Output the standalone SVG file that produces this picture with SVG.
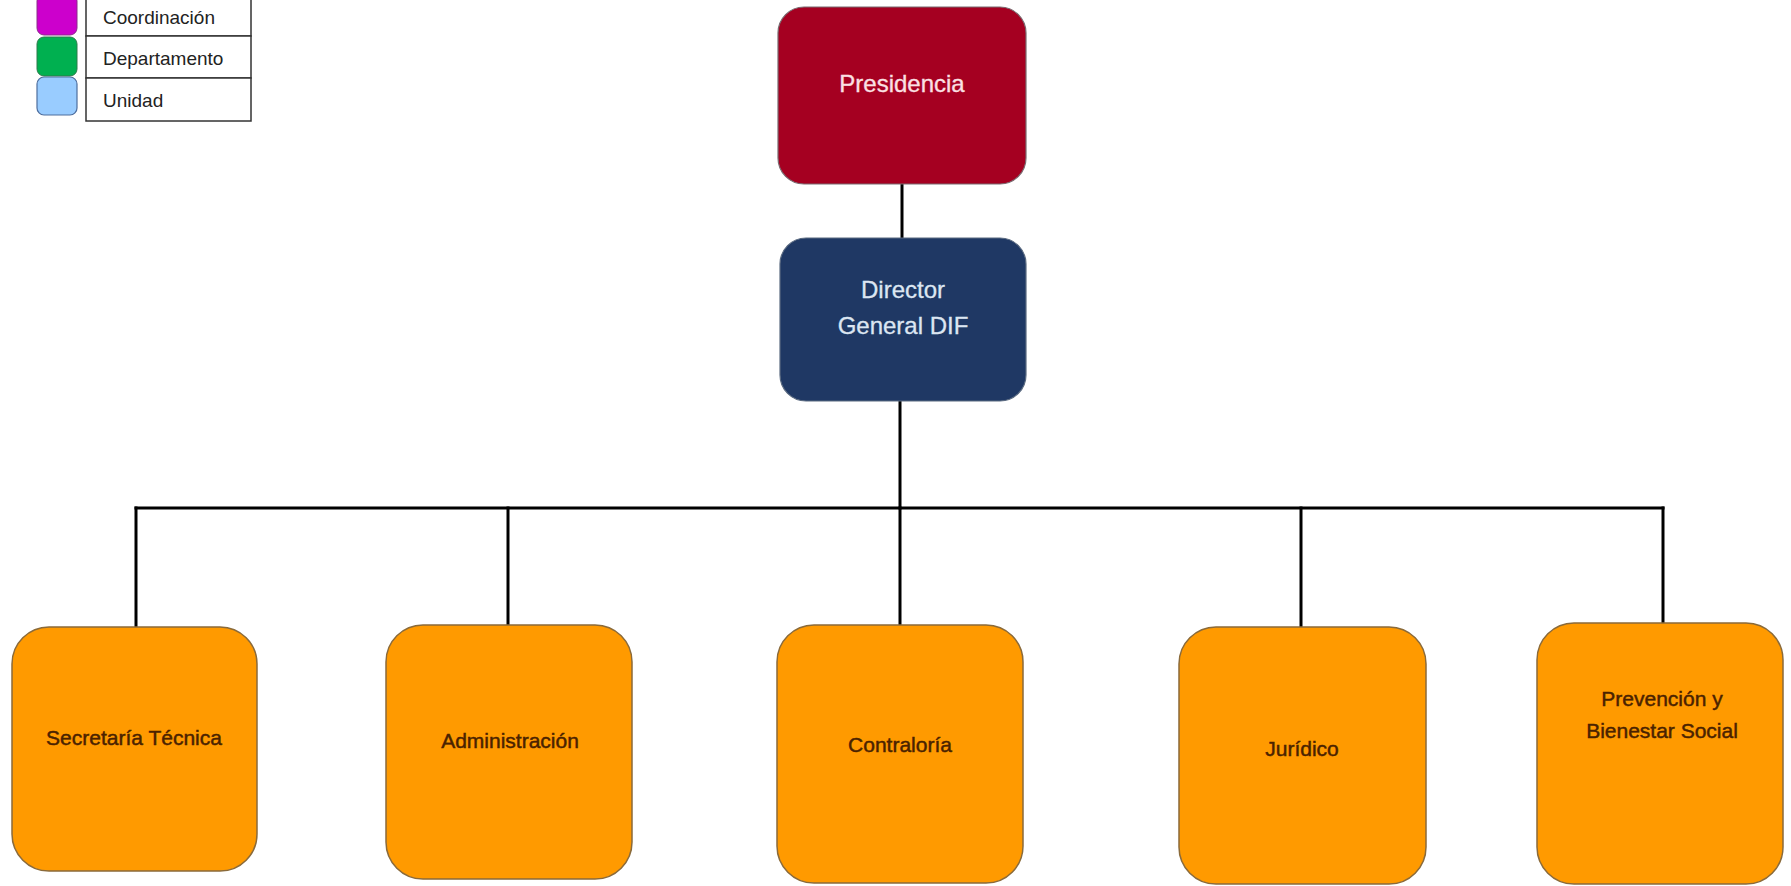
<svg xmlns="http://www.w3.org/2000/svg" width="1791" height="886" viewBox="0 0 1791 886">
  <style>
    text { font-family: "Liberation Sans", Arial, sans-serif; text-anchor: middle; }
    .unit { fill: #FF9A00; stroke: #8A6A3A; stroke-width: 1.5; }
    .unit-label { font-size: 21px; fill: #4A2200; stroke: #4A2200; stroke-width: 0.45; }
    .conn { stroke: #000000; stroke-width: 3; fill: none; stroke-linecap: square; }
    .legend-label { font-size: 19px; fill: #222222; text-anchor: start; }
    .legend-cell { fill: #FFFFFF; stroke: #333333; stroke-width: 1.5; }
  </style>
  <rect width="1791" height="886" fill="#FFFFFF"/>

  <g id="legend">
    <rect x="37" y="-6" width="40" height="41" rx="7" fill="#CC00CC" stroke="#8A2C8A" stroke-width="1"/>
    <rect x="37" y="37" width="40" height="39" rx="7" fill="#00B050" stroke="#2C7A4A" stroke-width="1"/>
    <rect x="37" y="77" width="40" height="38" rx="7" fill="#99CCFF" stroke="#4E6E9E" stroke-width="1.2"/>
    <rect class="legend-cell" x="86" y="-2" width="165" height="38"/>
    <rect class="legend-cell" x="86" y="36" width="165" height="42"/>
    <rect class="legend-cell" x="86" y="78" width="165" height="43"/>
    <text class="legend-label" x="103" y="24">Coordinación</text>
    <text class="legend-label" x="103" y="65">Departamento</text>
    <text class="legend-label" x="103" y="107">Unidad</text>
  </g>

  <g id="connectors">
    <line class="conn" x1="902" y1="184" x2="902" y2="238"/>
    <line class="conn" x1="900" y1="401" x2="900" y2="508"/>
    <line class="conn" x1="136" y1="508" x2="1663" y2="508"/>
    <line class="conn" x1="136" y1="508" x2="136" y2="627"/>
    <line class="conn" x1="508" y1="508" x2="508" y2="625"/>
    <line class="conn" x1="900" y1="508" x2="900" y2="625"/>
    <line class="conn" x1="1301" y1="508" x2="1301" y2="627"/>
    <line class="conn" x1="1663" y1="508" x2="1663" y2="623"/>
  </g>

  <g id="presidencia">
    <rect x="778" y="7" width="248" height="177" rx="26" fill="#A50021" stroke="#7A6A70" stroke-width="1.2"/>
    <text x="902" y="92" font-size="24" fill="#FBE0E4" stroke="#FBE0E4" stroke-width="0.3">Presidencia</text>
  </g>

  <g id="director">
    <rect x="780" y="238" width="246" height="163" rx="26" fill="#1F3864" stroke="#5A6A80" stroke-width="1.2"/>
    <text x="903" y="298" font-size="24" fill="#DCE6F2" stroke="#DCE6F2" stroke-width="0.3">Director</text>
    <text x="903" y="334" font-size="24" fill="#DCE6F2" stroke="#DCE6F2" stroke-width="0.3">General DIF</text>
  </g>

  <g id="secretaria-tecnica">
    <rect class="unit" x="12" y="627" width="245" height="244" rx="37"/>
    <text class="unit-label" x="134" y="745">Secretaría Técnica</text>
  </g>

  <g id="administracion">
    <rect class="unit" x="386" y="625" width="246" height="254" rx="37"/>
    <text class="unit-label" x="510" y="748">Administración</text>
  </g>

  <g id="contraloria">
    <rect class="unit" x="777" y="625" width="246" height="258" rx="37"/>
    <text class="unit-label" x="900" y="752">Contraloría</text>
  </g>

  <g id="juridico">
    <rect class="unit" x="1179" y="627" width="247" height="257" rx="37"/>
    <text class="unit-label" x="1302" y="756">Jurídico</text>
  </g>

  <g id="prevencion">
    <rect class="unit" x="1537" y="623" width="246" height="261" rx="37"/>
    <text class="unit-label" x="1662" y="706">Prevención y</text>
    <text class="unit-label" x="1662" y="738">Bienestar Social</text>
  </g>
</svg>
